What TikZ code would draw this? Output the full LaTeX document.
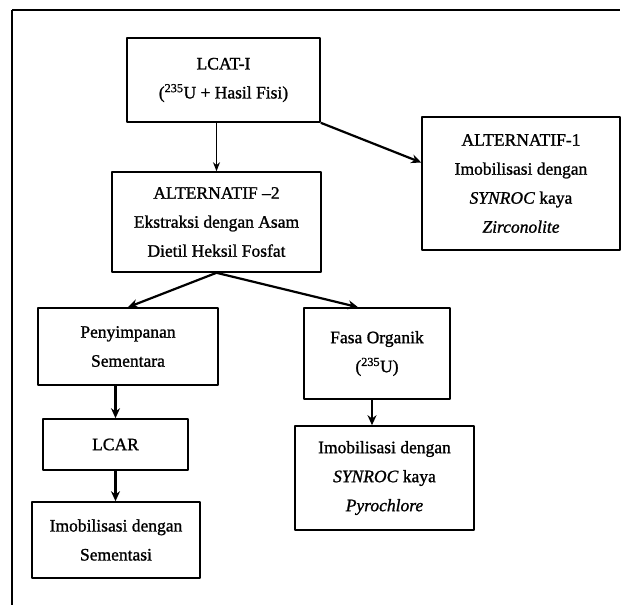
\documentclass[tikz,border=0pt]{standalone}
\usepackage{fontspec}
\setmainfont{Liberation Serif}[FakeBold=1.2]
\usepackage{tikz}
\usetikzlibrary{arrows.meta}
\tikzset{
  every picture/.style={line join=round, >=Stealth},
  box/.style={draw, line width=1.6pt, inner sep=0pt, align=center,
    font=\fontsize{17.5}{29}\selectfont},
  flow/.style={-{Stealth[length=10pt,width=9pt]}, line width=2.2pt},
  flowthin/.style={-{Stealth[length=9pt,width=7pt]}, line width=1pt},
}
\begin{document}
\begin{tikzpicture}[x=1pt,y=-1pt]
\useasboundingbox (0,0) rectangle (624,605);
% frame
\draw[line width=2.2pt](12,10)--(620,10);
\draw[line width=1.6pt](12,10)--(12,605);
% boxes
\node[box,minimum width=193pt,minimum height=84pt] (lcat) at (223.5,80) {LCAT-I\\(\textsuperscript{235}U + Hasil Fisi)};
\node[box,minimum width=198pt,minimum height=133pt] (alt1) at (521,183.5) {ALTERNATIF-1\\Imobilisasi dengan\\\textit{SYNROC} kaya\\\textit{Zirconolite}};
\node[box,minimum width=209pt,minimum height=100pt] (alt2) at (216.5,222) {ALTERNATIF --2\\Ekstraksi dengan Asam\\Dietil Heksil Fosfat};
\node[box,minimum width=180pt,minimum height=77pt] (simpan) at (128,346.5) {Penyimpanan\\Sementara};
\node[box,minimum width=146pt,minimum height=91pt] (fasa) at (377,353.5) {Fasa Organik\\(\textsuperscript{235}U)};
\node[box,minimum width=145pt,minimum height=51pt] (lcar) at (115.5,444.5) {LCAR};
\node[box,minimum width=168pt,minimum height=76pt] (semen) at (116,540) {Imobilisasi dengan\\Sementasi};
\node[box,minimum width=179pt,minimum height=104pt] (pyro) at (384.5,478) {Imobilisasi dengan\\\textit{SYNROC} kaya\\\textit{Pyrochlore}};
% arrows
\draw[flowthin](lcat.south -| alt2.north)--(alt2.north);
\draw[flow](lcat.south east)--([yshift=21pt]alt1.west);
\draw[flow](alt2.south)--(simpan.north);
\draw[flow](alt2.south)--([xshift=-19pt]fasa.north);
\draw[flow](simpan.south -| lcar.north)--(lcar.north);
\draw[flow](lcar.south)--(lcar.south |- semen.north);
\draw[flow](fasa.south -| 372,0)--(pyro.north -| 372,0);
\end{tikzpicture}
\end{document}
